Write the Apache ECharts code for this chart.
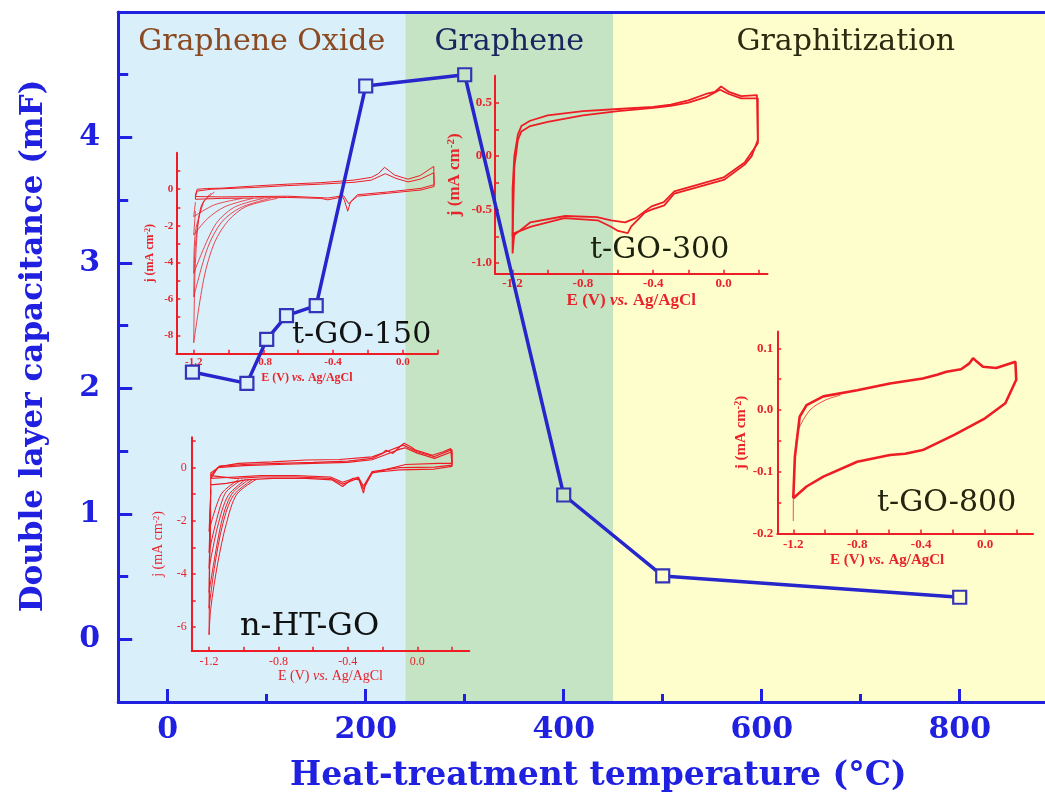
<!DOCTYPE html>
<html><head><meta charset="utf-8">
<script src="https://cdn.jsdelivr.net/npm/echarts@6/dist/echarts.min.js"></script>
<style>html,body{margin:0;padding:0;background:#fff}#c{width:1045px;height:802px}</style>
</head><body><div id="c"></div>
<script>
// ---------- main chart data ----------
const temps = [25, 80, 100, 120, 150, 200, 300, 400, 500, 800];
const caps  = [2.13, 2.04, 2.39, 2.58, 2.66, 4.41, 4.50, 1.15, 0.505, 0.335];
const xLabels = [0, 200, 400, 600, 800];
const xMinorTicks = [100, 300, 500, 700];
const yLabels = [0, 1, 2, 3, 4];
const yMinorTicks = [0.5, 1.5, 2.5, 3.5, 4.5];
const bandNames = ['Graphene Oxide', 'Graphene', 'Graphitization'];
const bandEdges = [-50, 240, 450, 920];

// ---------- inset tick labels ----------
const insetELabels = [-1.2, -0.8, -0.4, 0.0];
const insetETicks = [-1.2, -1.0, -0.8, -0.6, -0.4, -0.2, 0.0, 0.2];
const go150JLabels = [0, -2, -4, -6, -8];
const go150JTicks = [1, 0, -1, -2, -3, -4, -5, -6, -7, -8];
const htJLabels = [0, -2, -4, -6];
const htJTicks = [1, 0, -1, -2, -3, -4, -5, -6];
const go300JLabels = [0.5, 0.0, -0.5, -1.0];
const go300JTicks = [0.5, 0.25, 0, -0.25, -0.5, -0.75, -1.0];
const go800JLabels = [0.1, 0.0, -0.1, -0.2];
const go800JTicks = [0.1, 0.05, 0, -0.05, -0.1, -0.15, -0.2];

// ---------- inset CV curves (E / V, j) ----------
const go150LoopA = [[-1.19,-0.55],[-1.19,-0.3],[-1.18,0.0],[-1.12,0.04],[-1.04,0.06],[-0.85,0.18],[-0.66,0.28],[-0.47,0.36],[-0.28,0.5],[-0.18,0.65],[-0.14,0.85],[-0.105,1.2],[-0.07,0.95],[-0.048,0.78],[0.03,0.55],[0.1,0.75],[0.178,1.25],[0.18,0.15],[0.105,-0.04],[-0.086,-0.22],[-0.26,-0.38],[-0.3,-0.7],[-0.316,-1.2],[-0.335,-0.6],[-0.345,-0.42],[-0.43,-0.58],[-0.47,-0.5],[-0.66,-0.45],[-0.85,-0.48],[-1.04,-0.5],[-1.19,-0.55]];
const go150LoopB = [[-1.19,-0.4],[-1.18,-0.1],[-1.1,0.0],[-0.85,0.1],[-0.66,0.2],[-0.47,0.28],[-0.28,0.38],[-0.18,0.5],[-0.1,0.85],[-0.04,0.6],[0.03,0.4],[0.1,0.55],[0.178,0.9],[0.18,0.25],[0.105,0.05],[-0.086,-0.15],[-0.26,-0.3],[-0.31,-0.8],[-0.34,-0.35],[-0.43,-0.48],[-0.66,-0.38],[-0.85,-0.4],[-1.04,-0.42],[-1.19,-0.4]];
const go150Tail1 = [[-0.72,-0.5],[-0.9,-0.95],[-1.0,-1.7],[-1.08,-2.9],[-1.14,-4.8],[-1.2,-8.4],[-1.19,-4.0],[-1.16,-1.0],[-1.1,-0.2]];
const go150Tail2 = [[-0.76,-0.5],[-0.93,-1.0],[-1.04,-1.8],[-1.12,-3.2],[-1.2,-5.9],[-1.19,-3.0],[-1.15,-0.8],[-1.08,-0.15]];
const go150Tail3 = [[-0.8,-0.5],[-0.97,-1.0],[-1.08,-2.0],[-1.2,-4.6],[-1.19,-2.3],[-1.14,-0.6]];
const go150Tail4 = [[-0.86,-0.5],[-1.02,-0.95],[-1.12,-1.6],[-1.2,-2.5],[-1.19,-1.2]];
const go150Tail5 = [[-0.92,-0.5],[-1.08,-0.85],[-1.2,-1.5],[-1.19,-0.7]];

const htLoopA = [[-1.19,-0.65],[-1.19,-0.2],[-1.14,0.04],[-1.03,0.16],[-0.835,0.22],[-0.64,0.29],[-0.45,0.31],[-0.26,0.41],[-0.2,0.55],[-0.18,0.66],[-0.14,0.54],[-0.1,0.8],[-0.076,0.92],[-0.04,0.8],[-0.009,0.66],[0.087,0.47],[0.15,0.6],[0.193,0.72],[0.2,0.79],[0.2,0.16],[0.126,0.16],[-0.067,0.12],[-0.2,-0.1],[-0.26,-0.21],[-0.3,-0.65],[-0.31,-0.96],[-0.335,-0.46],[-0.37,-0.4],[-0.43,-0.71],[-0.49,-0.46],[-0.64,-0.4],[-0.835,-0.4],[-0.99,-0.46],[-1.1,-0.59],[-1.19,-0.65]];
const htLoopB = [[-1.19,-0.4],[-1.15,0.0],[-1.0,0.08],[-0.8,0.12],[-0.6,0.16],[-0.4,0.2],[-0.26,0.3],[-0.18,0.5],[-0.1,0.7],[-0.07,0.75],[0.0,0.55],[0.1,0.35],[0.2,0.6],[0.2,0.1],[0.1,0.02],[-0.1,0.0],[-0.26,-0.15],[-0.31,-0.7],[-0.34,-0.35],[-0.43,-0.55],[-0.5,-0.35],[-0.7,-0.3],[-0.9,-0.3],[-1.05,-0.35],[-1.19,-0.4]];
const htLoopC = [[-1.19,-0.3],[-1.14,0.06],[-1.0,0.12],[-0.8,0.16],[-0.6,0.2],[-0.4,0.25],[-0.26,0.35],[-0.18,0.6],[-0.08,0.85],[0.0,0.6],[0.1,0.42],[0.2,0.68],[0.2,0.05],[0.1,-0.05],[-0.1,-0.08],[-0.26,-0.18],[-0.31,-0.8],[-0.34,-0.4],[-0.43,-0.62],[-0.5,-0.4],[-0.7,-0.35],[-0.9,-0.35],[-1.05,-0.4],[-1.19,-0.3]];
const htTail1 = [[-0.93,-0.45],[-1.04,-1.0],[-1.1,-2.1],[-1.15,-3.6],[-1.19,-5.3],[-1.2,-6.3],[-1.195,-3.0],[-1.19,-0.8]];
const htTail2 = [[-0.95,-0.45],[-1.06,-1.05],[-1.12,-2.1],[-1.17,-3.8],[-1.2,-5.3],[-1.195,-2.6],[-1.19,-0.7]];
const htTail3 = [[-0.97,-0.45],[-1.07,-1.0],[-1.13,-2.1],[-1.2,-4.7],[-1.195,-2.2],[-1.19,-0.6]];
const htTail4 = [[-0.99,-0.45],[-1.09,-1.05],[-1.15,-2.2],[-1.2,-3.8],[-1.19,-1.6]];
const htTail5 = [[-1.01,-0.45],[-1.11,-1.0],[-1.2,-3.2],[-1.19,-1.2]];
const htTail6 = [[-1.03,-0.45],[-1.13,-1.0],[-1.2,-2.4],[-1.19,-0.9]];

const go300LoopA = [[-1.2,-0.91],[-1.2,-0.3],[-1.19,0.0],[-1.17,0.2],[-1.15,0.28],[-1.1,0.33],[-1.0,0.38],[-0.8,0.42],[-0.6,0.44],[-0.4,0.46],[-0.3,0.48],[-0.2,0.52],[-0.1,0.58],[-0.05,0.6],[-0.014,0.65],[0.03,0.6],[0.1,0.56],[0.19,0.57],[0.195,0.57],[0.195,0.15],[0.16,0.0],[0.12,-0.08],[0.005,-0.22],[-0.147,-0.29],[-0.28,-0.35],[-0.337,-0.46],[-0.41,-0.5],[-0.45,-0.53],[-0.526,-0.66],[-0.545,-0.72],[-0.6,-0.7],[-0.64,-0.66],[-0.716,-0.6],[-0.906,-0.58],[-1.095,-0.66],[-1.19,-0.72],[-1.2,-0.91]];
const go300LoopB = [[-1.2,-0.75],[-1.19,-0.1],[-1.17,0.15],[-1.15,0.23],[-1.1,0.28],[-1.0,0.32],[-0.8,0.38],[-0.6,0.42],[-0.4,0.45],[-0.3,0.47],[-0.2,0.5],[-0.1,0.55],[-0.02,0.62],[0.03,0.58],[0.1,0.54],[0.195,0.54],[0.195,0.12],[0.12,-0.06],[0.0,-0.2],[-0.15,-0.27],[-0.28,-0.33],[-0.34,-0.43],[-0.41,-0.47],[-0.5,-0.58],[-0.56,-0.62],[-0.64,-0.6],[-0.72,-0.57],[-0.9,-0.56],[-1.1,-0.62],[-1.2,-0.75]];

const go800Loop = [[-1.2,-0.143],[-1.195,-0.11],[-1.19,-0.076],[-1.16,-0.011],[-1.117,0.008],[-1.012,0.022],[-0.8,0.032],[-0.595,0.043],[-0.39,0.051],[-0.3,0.057],[-0.242,0.062],[-0.15,0.066],[-0.1,0.075],[-0.075,0.084],[-0.05,0.078],[-0.013,0.07],[0.07,0.068],[0.19,0.078],[0.195,0.08],[0.195,0.049],[0.127,0.011],[0.0,-0.0135],[-0.19,-0.04],[-0.39,-0.065],[-0.5,-0.071],[-0.595,-0.073],[-0.8,-0.084],[-1.012,-0.108],[-1.117,-0.124],[-1.2,-0.143]];
const go800First = [[-1.2,-0.18],[-1.198,-0.12],[-1.185,-0.06],[-1.168,-0.032],[-1.095,0.0],[-1.0,0.016],[-0.905,0.024]];

// ---------- styling ----------
const BLUE = '#2020e0';
const RED = '#ee1c24';
const RED_TXT = '#e8232b';
const bandColors = ['#d9eff9', '#c4e4c4', '#fefdcc'];
const bandTextColors = ['#8b4a22', '#1b2660', '#2b2b12'];

function bandColorAt(t) {
  for (let i = 0; i < bandNames.length; i++) if (t >= bandEdges[i] && t < bandEdges[i + 1]) return bandColors[i];
  return bandColors[bandColors.length - 1];
}

function fmt1(v) { return (Math.round(v * 10) / 10).toFixed(1); }

function insetX(grid, min, max, opts) {
  return {
    type: 'value', gridIndex: grid, min: min, max: max, position: 'bottom', z: 4,
    axisLine: { show: true, onZero: false, lineStyle: { color: RED, width: 2 } },
    axisTick: { show: true, inside: true, length: 4, customValues: insetETicks, lineStyle: { color: RED, width: 1.5 } },
    axisLabel: { customValues: insetELabels, formatter: fmt1, color: RED_TXT, fontFamily: 'Liberation Serif', fontWeight: opts.bold ? 'bold' : 'normal', fontSize: opts.tick, margin: opts.margin },
    splitLine: { show: false },
    name: 'E (V) {i|vs.} Ag/AgCl', nameLocation: 'middle', nameGap: opts.gap,
    nameTextStyle: {
      color: RED_TXT, fontFamily: 'Liberation Serif', fontWeight: opts.bold ? 'bold' : 'normal', fontSize: opts.name,
      padding: opts.pad || 0,
      rich: { i: { fontStyle: 'italic', color: RED_TXT, fontFamily: 'Liberation Serif', fontWeight: opts.bold ? 'bold' : 'normal', fontSize: opts.name } }
    }
  };
}
function insetY(grid, min, max, labels, ticks, formatter, opts) {
  return {
    type: 'value', gridIndex: grid, min: min, max: max, position: 'left', z: 4,
    axisLine: { show: true, onZero: false, lineStyle: { color: RED, width: 2 } },
    axisTick: { show: true, inside: true, length: 4, customValues: ticks, lineStyle: { color: RED, width: 1.5 } },
    axisLabel: { customValues: labels, formatter: formatter, color: RED_TXT, fontFamily: 'Liberation Serif', fontWeight: opts.bold ? 'bold' : 'normal', fontSize: opts.tick, margin: opts.margin },
    splitLine: { show: false },
    name: 'j (mA cm{sup|-2})', nameLocation: 'middle', nameGap: opts.gap,
    nameTextStyle: {
      color: RED_TXT, fontFamily: 'Liberation Serif', fontWeight: opts.bold ? 'bold' : 'normal', fontSize: opts.name,
      rich: { sup: { fontSize: Math.round(opts.name * 0.65), verticalAlign: 'top', lineHeight: Math.round(opts.name * 0.65), color: RED_TXT, fontFamily: 'Liberation Serif', fontWeight: opts.bold ? 'bold' : 'normal' } }
    }
  };
}
function cv(grid, data, width, smooth) {
  return { type: 'line', xAxisIndex: grid, yAxisIndex: grid, data: data, symbol: 'none', showSymbol: false,
    smooth: smooth || 0, lineStyle: { color: RED, width: width }, z: 3, silent: true, animation: false };
}

const intFmt = v => String(Math.round(v));

const option = {
  animation: false,
  backgroundColor: '#ffffff',
  grid: [
    { left: 118.2, top: 12, width: 960.3, height: 690, outerBoundsMode: 'none' },
    { left: 176.3, top: 152.7, width: 261.3, height: 201, outerBoundsMode: 'none' },
    { left: 191.7, top: 437.2, width: 277.6, height: 213.5, outerBoundsMode: 'none' },
    { left: 495, top: 75.8, width: 272.5, height: 198, outerBoundsMode: 'none' },
    { left: 777.3, top: 331.6, width: 255.7, height: 201.8, outerBoundsMode: 'none' }
  ],
  xAxis: [
    { type: 'value', gridIndex: 0, min: bandEdges[0], max: bandEdges[bandEdges.length - 1], position: 'bottom', z: 5,
      axisLine: { show: true, onZero: false, lineStyle: { color: BLUE, width: 3 } },
      axisTick: { show: true, inside: true, length: 13, customValues: xLabels, lineStyle: { color: BLUE, width: 3 } },
      axisLabel: { customValues: xLabels, color: BLUE, fontFamily: 'DejaVu Serif', fontWeight: 'bold', fontSize: 30, margin: 13 },
      splitLine: { show: false },
      name: 'Heat-treatment temperature (°C)', nameLocation: 'middle', nameGap: 58,
      nameTextStyle: { color: BLUE, fontFamily: 'DejaVu Serif', fontWeight: 'bold', fontSize: 33 } },
    insetX(1, -1.3, 0.2, { bold: true, tick: 11, name: 12, margin: 3, gap: 18 }),
    insetX(2, -1.3, 0.3, { bold: false, tick: 12, name: 14, margin: 5, gap: 19 }),
    insetX(3, -1.3, 0.25, { bold: true, tick: 13, name: 17, margin: 3, gap: 18 }),
    insetX(4, -1.3, 0.3, { bold: true, tick: 13, name: 15, margin: 5, gap: 19, pad: [0, 36, 0, 0] }),
    { type: 'value', gridIndex: 0, min: bandEdges[0], max: bandEdges[bandEdges.length - 1], position: 'bottom', offset: 0, z: 5,
      axisLine: { show: false, onZero: false }, axisLabel: { show: false }, splitLine: { show: false },
      axisTick: { show: true, inside: true, length: 8, customValues: xMinorTicks, lineStyle: { color: BLUE, width: 3 } } },
    { type: 'value', gridIndex: 0, min: bandEdges[0], max: bandEdges[bandEdges.length - 1], position: 'top', offset: 0, z: 5,
      axisLine: { show: true, onZero: false, lineStyle: { color: BLUE, width: 3 } }, axisLabel: { show: false }, axisTick: { show: false }, splitLine: { show: false } }
  ],
  yAxis: [
    { type: 'value', gridIndex: 0, min: -0.5, max: 5, position: 'left', z: 5,
      axisLine: { show: true, onZero: false, lineStyle: { color: BLUE, width: 3 } },
      axisTick: { show: true, inside: true, length: 14, customValues: yLabels, lineStyle: { color: BLUE, width: 3 } },
      axisLabel: { customValues: yLabels, formatter: intFmt, color: BLUE, fontFamily: 'DejaVu Serif', fontWeight: 'bold', fontSize: 30, margin: 18 },
      splitLine: { show: false },
      name: 'Double layer capacitance (mF)', nameLocation: 'middle', nameGap: 69,
      nameTextStyle: { color: BLUE, fontFamily: 'DejaVu Serif', fontWeight: 'bold', fontSize: 31, padding: [0, 0, 0, 22] } },
    insetY(1, -9, 2, go150JLabels, go150JTicks, intFmt, { bold: true, tick: 11, name: 12, margin: 3, gap: 20 }),
    insetY(2, -6.9, 1.15, htJLabels, htJTicks, intFmt, { bold: false, tick: 12, name: 14, margin: 5, gap: 26 }),
    insetY(3, -1.1, 0.75, go300JLabels, go300JTicks, fmt1, { bold: true, tick: 13, name: 17, margin: 3, gap: 32 }),
    insetY(4, -0.2, 0.127, go800JLabels, go800JTicks, fmt1, { bold: true, tick: 13, name: 15, margin: 4, gap: 26 }),
    { type: 'value', gridIndex: 0, min: -0.5, max: 5, position: 'left', offset: 0, z: 5,
      axisLine: { show: false, onZero: false }, axisLabel: { show: false }, splitLine: { show: false },
      axisTick: { show: true, inside: true, length: 10, customValues: yMinorTicks, lineStyle: { color: BLUE, width: 3 } } }
  ],
  series: [
    { type: 'line', xAxisIndex: 0, yAxisIndex: 0, data: [], z: 0, silent: true,
      markArea: { silent: true,
        data: bandNames.map((n, i) => [
          { xAxis: bandEdges[i], name: n, itemStyle: { color: bandColors[i], opacity: 1 },
            label: { show: true, position: 'insideTop', distance: 15, color: bandTextColors[i], fontFamily: 'DejaVu Serif', fontSize: 30 } },
          { xAxis: bandEdges[i + 1] }
        ]) } },
    cv(1, go150LoopA, 1), cv(1, go150LoopB, 1),
    cv(1, go150Tail1, 0.8, 0.3), cv(1, go150Tail2, 0.8, 0.3), cv(1, go150Tail3, 0.8, 0.3), cv(1, go150Tail4, 0.8, 0.3), cv(1, go150Tail5, 0.8, 0.3),
    cv(2, htLoopA, 1.2), cv(2, htLoopB, 1.2), cv(2, htLoopC, 1.2),
    cv(2, htTail1, 1, 0.3), cv(2, htTail2, 1, 0.3), cv(2, htTail3, 1, 0.3), cv(2, htTail4, 1, 0.3), cv(2, htTail5, 1, 0.3), cv(2, htTail6, 1, 0.3),
    cv(3, go300LoopA, 1.8), cv(3, go300LoopB, 1.8),
    cv(4, go800Loop, 2.6), cv(4, go800First, 0.8, 0.3),
    { type: 'line', xAxisIndex: 0, yAxisIndex: 0, z: 10, animation: false,
      data: temps.map((t, i) => ({ value: [t, caps[i]], itemStyle: { color: bandColorAt(t) } })),
      symbol: 'rect', symbolSize: 13, showAllSymbol: true,
      itemStyle: { borderColor: '#3434b8', borderWidth: 2.2 },
      lineStyle: { color: '#2626cc', width: 3.5 } }
  ],
  graphic: [
    { type: 'text', z: 20, x: 292, y: 335, style: { text: 't-GO-150', font: 'normal 30px "DejaVu Serif"', fill: '#111111', verticalAlign: 'middle' } },
    { type: 'text', z: 20, x: 240, y: 627, style: { text: 'n-HT-GO', font: 'normal 32px "DejaVu Serif"', fill: '#111111', verticalAlign: 'middle' } },
    { type: 'text', z: 20, x: 590, y: 250, style: { text: 't-GO-300', font: 'normal 30px "DejaVu Serif"', fill: '#1c210e', verticalAlign: 'middle' } },
    { type: 'text', z: 20, x: 877, y: 503, style: { text: 't-GO-800', font: 'normal 30px "DejaVu Serif"', fill: '#24240f', verticalAlign: 'middle' } }
  ]
};

const chart = echarts.init(document.getElementById('c'), null, { renderer: 'canvas' });
chart.setOption(option);
</script></body></html>
